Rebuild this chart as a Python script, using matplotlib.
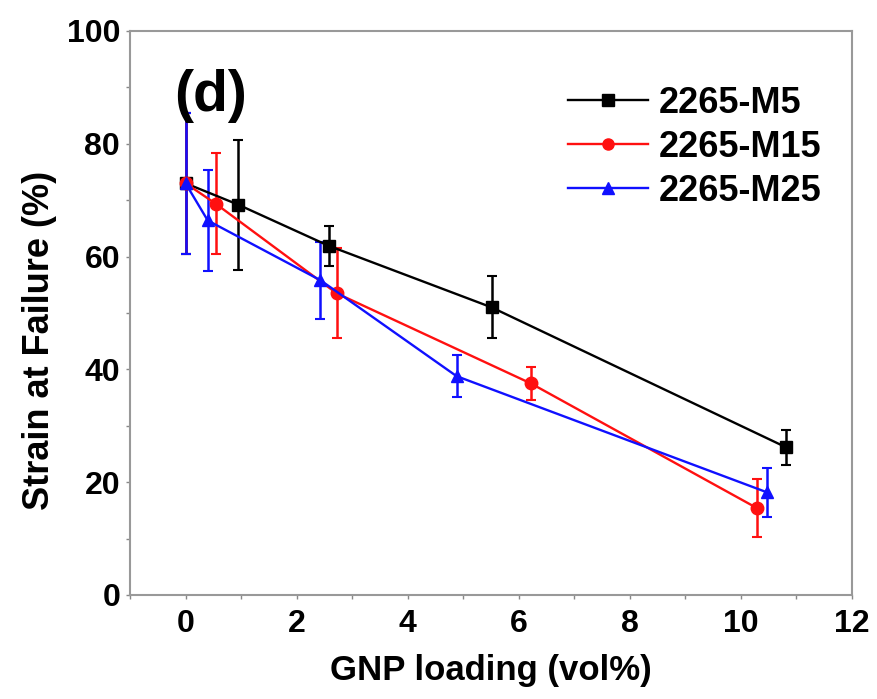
import matplotlib
matplotlib.use("Agg")
import matplotlib.pyplot as plt
from matplotlib.lines import Line2D
from matplotlib.ticker import MultipleLocator

plt.rcParams['font.family'] = ['Liberation Sans', 'DejaVu Sans']
plt.rcParams['font.weight'] = 'bold'

# 2265-M5
x_m5 = [0.0, 0.95, 2.58, 5.51, 10.81]
y_m5 = [73.0, 69.2, 61.9, 51.0, 26.2]
e_m5 = [12.5, 11.5, 3.6, 5.5, 3.1]

# 2265-M15
x_m15 = [0.0, 0.54, 2.72, 6.22, 10.29]
y_m15 = [73.0, 69.4, 53.5, 37.5, 15.4]
e_m15 = [12.5, 9.0, 8.0, 3.0, 5.2]

# 2265-M25
x_m25 = [0.0, 0.40, 2.43, 4.88, 10.47]
y_m25 = [73.0, 66.4, 55.8, 38.8, 18.2]
e_m25 = [12.5, 9.0, 6.8, 3.7, 4.3]

series = [
    ('2265-M5', x_m5, y_m5, e_m5, 'black', 's'),
    ('2265-M15', x_m15, y_m15, e_m15, '#ff1010', 'o'),
    ('2265-M25', x_m25, y_m25, e_m25, '#1010ff', '^'),
]

fig = plt.figure(figsize=(8.77, 6.99), dpi=100)
ax = fig.add_axes([0.1482, 0.1488, 0.8233, 0.8069])

handles = []
for label, xs, ys, es, col, mk in series:
    ax.errorbar(xs, ys, yerr=es, color=col, marker=mk, markersize=9,
                linewidth=1.7, elinewidth=1.8, capsize=3.5, capthick=1.5)
    handles.append(Line2D([], [], color=col, marker=mk, markersize=8,
                          linewidth=1.7, label=label))

ax.set_xlim(-1, 12)
ax.set_ylim(0, 100)
ax.xaxis.set_major_locator(MultipleLocator(2))
ax.xaxis.set_minor_locator(MultipleLocator(1))
ax.yaxis.set_major_locator(MultipleLocator(20))
ax.yaxis.set_minor_locator(MultipleLocator(10))
ax.tick_params(which='both', direction='out', length=3, width=1,
               color='#888888', labelsize=23)
ax.tick_params(axis='x', pad=7)
ax.tick_params(axis='y', pad=4)
for s in ax.spines.values():
    s.set_color('#999999')
    s.set_linewidth(1.5)

ax.set_xlabel('GNP loading (vol%)', fontsize=25, fontweight='bold')
ax.xaxis.set_label_coords(0.5, -0.105)
ax.set_ylabel('Strain at Failure (%)', fontsize=26, fontweight='bold')
ax.yaxis.set_label_coords(-0.101, 0.452)

ax.text(0.45, 88.5, '(d)', fontsize=41, fontweight='bold', ha='center', va='center')

leg = ax.legend(handles=handles, loc='upper left', bbox_to_anchor=(0.607, 0.903),
                frameon=False, fontsize=26, handlelength=2.2, labelspacing=0.25,
                handletextpad=0.3, borderpad=0, borderaxespad=0)
for t in leg.get_texts():
    t.set_fontweight('bold')

fig.savefig('out.png', dpi=100)
